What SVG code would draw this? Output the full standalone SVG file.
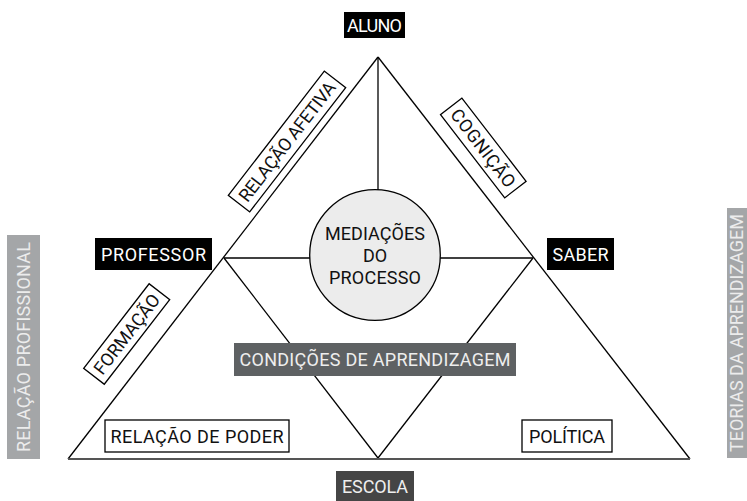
<svg xmlns="http://www.w3.org/2000/svg" width="747" height="501" viewBox="0 0 747 501">
<style>
text{font-family:Roboto,"DejaVu Sans",sans-serif;font-size:18px;text-anchor:middle}
.line{stroke:#000;stroke-width:1.3;fill:none}
.dark rect{fill:#000}
.dark text{fill:#fff}
.box rect{fill:#fff;stroke:#000;stroke-width:1.3}
.box text{fill:#111}
.side rect{fill:#a4a6a8}
.side text{fill:#ececec}
</style>
<rect width="747" height="501" fill="#fff"/>
<g id="connectors">
<line class="line" x1="378" y1="57" x2="68" y2="459"/>
<line class="line" x1="378" y1="57" x2="690" y2="459"/>
<line class="line" x1="378" y1="57" x2="378" y2="192"/>
<line class="line" x1="224" y1="258" x2="533" y2="258"/>
<line class="line" x1="224" y1="258" x2="378" y2="458"/>
<line class="line" x1="533" y1="258" x2="378" y2="458"/>
<line x1="68" y1="459" x2="690" y2="459" stroke="#555" stroke-width="2"/>
</g>
<g id="mediacoes">
<circle cx="375" cy="255" r="65.3" fill="#ececec" stroke="#000" stroke-width="1.3"/>
<text x="375" y="239.5" fill="#111" textLength="100" lengthAdjust="spacing">MEDIAÇÕES</text>
<text x="375" y="261.5" fill="#111">DO</text>
<text x="375" y="283.5" fill="#111" textLength="92" lengthAdjust="spacing">PROCESSO</text>
</g>
<g id="aluno" class="dark"><rect x="344" y="12" width="61" height="26"/><text x="374.5" y="31.5" textLength="55" lengthAdjust="spacing">ALUNO</text></g>
<g id="professor" class="dark"><rect x="95" y="238" width="117" height="32"/><text x="153.5" y="260.5" textLength="105" lengthAdjust="spacing">PROFESSOR</text></g>
<g id="saber" class="dark"><rect x="547" y="238" width="67" height="32"/><text x="580.5" y="260.5" textLength="56" lengthAdjust="spacing">SABER</text></g>
<g id="escola"><rect x="336" y="471" width="78" height="30" fill="#454545"/><text x="375" y="492.5" fill="#eee" textLength="66" lengthAdjust="spacing">ESCOLA</text></g>
<g id="condicoes"><rect x="234" y="343" width="282" height="33" fill="#5e6163"/><text x="375" y="366" fill="#eee" textLength="271" lengthAdjust="spacing">CONDIÇÕES DE APRENDIZAGEM</text></g>
<g id="relacao-poder" class="box"><rect x="105" y="420" width="184" height="32"/><text x="197" y="442.5" textLength="173" lengthAdjust="spacing">RELAÇÃO DE PODER</text></g>
<g id="politica" class="box"><rect x="522" y="420" width="90" height="32"/><text x="567" y="442.5" textLength="76" lengthAdjust="spacing">POLÍTICA</text></g>
<g id="relacao-afetiva" class="box" transform="translate(287,141.5) rotate(-52.3)"><rect x="-78.5" y="-13.5" width="157" height="27"/><text x="0" y="6.5" textLength="146" lengthAdjust="spacing">RELAÇÃO AFETIVA</text></g>
<g id="formacao" class="box" transform="translate(126.7,334) rotate(-52.3)"><rect x="-53.5" y="-13" width="107" height="26"/><text x="0" y="6.5" textLength="96" lengthAdjust="spacing">FORMAÇÃO</text></g>
<g id="cognicao" class="box" transform="translate(483.3,148) rotate(52.3)"><rect x="-52.5" y="-13.5" width="105" height="27"/><text x="0" y="6.5" textLength="94" lengthAdjust="spacing">COGNIÇÃO</text></g>
<g id="relacao-profissional" class="side"><rect x="7" y="235" width="33" height="224"/><text transform="translate(29.5,347) rotate(-90)" x="0" y="0" textLength="210" lengthAdjust="spacing">RELAÇÃO PROFISSIONAL</text></g>
<g id="teorias" class="side"><rect x="727" y="208" width="22" height="250"/><text transform="translate(743,333) rotate(-90)" x="0" y="0" textLength="238" lengthAdjust="spacing">TEORIAS DA APRENDIZAGEM</text></g>
</svg>
